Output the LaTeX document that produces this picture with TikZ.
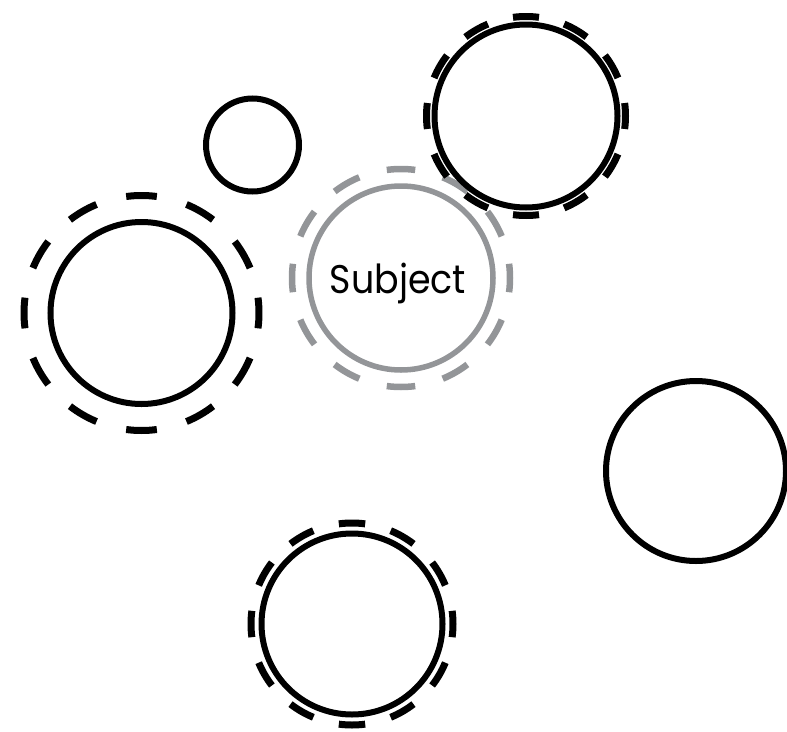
\documentclass[tikz,border=0pt]{standalone}
\usepackage{fontspec}
\setmainfont{Poppins}
\definecolor{ringgray}{HTML}{939598}
\begin{document}
\begin{tikzpicture}[x=1pt,y=-1pt,
  ring/.style={circle,draw=black,line width=6pt,inner sep=0pt,outer sep=0pt,minimum size=#1},
  grayring/.style={ring=#1,draw=ringgray,line width=5.5pt},
  dashark/.style={draw=black,line width=7pt,line cap=butt},
  graydashark/.style={draw=ringgray,line width=6.5pt,line cap=butt},
  label/.style={font=\fontsize{40}{40}\selectfont,text=black,inner sep=0pt,transform shape,xscale=0.91}]
\useasboundingbox (0,0) rectangle (787,731);

% subject (gray) first
\node[grayring=184] (subj) at (401,278) {};
\foreach \a in {0,30,...,330}
  \draw[graydashark] (subj.center) ++(\a-7.5:109) arc[start angle=\a-7.5,end angle=\a+7.5,radius=109];
\node[label,anchor=base] (subjtext) at (398,293) {Subject};

% small circle
\node[ring=93] (small) at (252.5,145) {};

% top right
\node[ring=183] (tr) at (526,116) {};
\foreach \a in {0,30,...,330}
  \draw[dashark] (tr.center) ++(\a-7.5:99.5) arc[start angle=\a-7.5,end angle=\a+7.5,radius=99.5];

% left
\node[ring=182] (lf) at (141.5,313) {};
\foreach \a in {0,30,...,330}
  \draw[dashark] (lf.center) ++(\a-7.5:117.5) arc[start angle=\a-7.5,end angle=\a+7.5,radius=117.5];

% right
\node[ring=180] (rt) at (696,471) {};

% bottom
\node[ring=181] (bt) at (352,624) {};
\foreach \a in {0,30,...,330}
  \draw[dashark] (bt.center) ++(\a-7.5:101) arc[start angle=\a-7.5,end angle=\a+7.5,radius=101];
\end{tikzpicture}
\end{document}
